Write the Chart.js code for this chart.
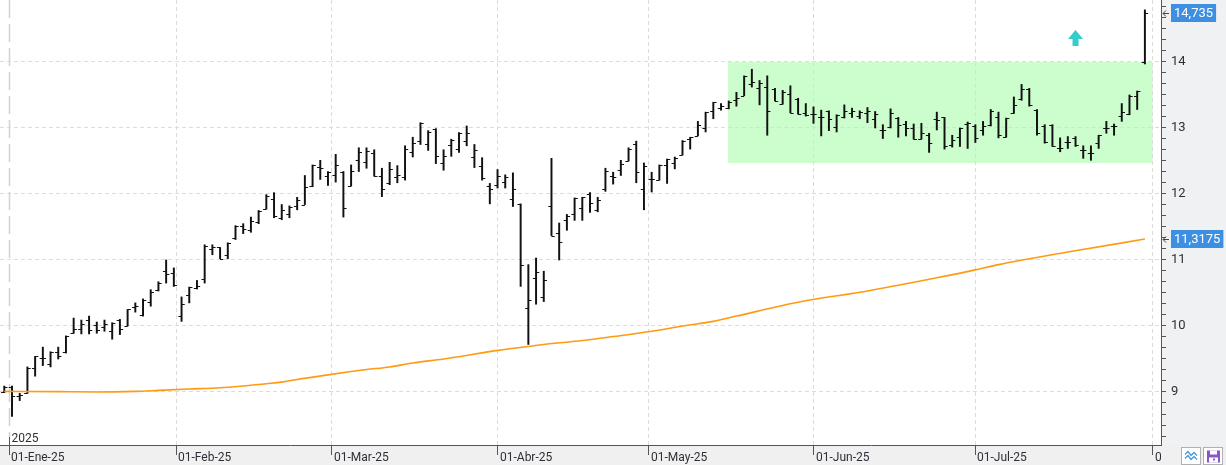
<!DOCTYPE html>
<html lang="es">
<head>
<meta charset="utf-8">
<title>Cotización diaria 2025</title>
<script src="https://cdn.jsdelivr.net/npm/chart.js@4.4.1/dist/chart.umd.min.js"></script>
<style>
  html, body { margin: 0; padding: 0; background: #fff; }
  #wrap { position: relative; width: 1226px; height: 465px; }
</style>
</head>
<body>
<div id="wrap"><canvas id="chart"></canvas></div>
<script>
'use strict';

/* ══════════════════════════════════════════
   DATOS (una barra por sesión, 31-dic-24 → 31-jul-25)
══════════════════════════════════════════ */

const opens = [
  9.00, 9.08, 8.94, 8.98, 9.36, 9.51, 9.42, 9.61, 9.60, 9.90,
  9.96, 10.09, 10.02, 9.98, 9.92, 10.09, 10.00, 10.29, 10.17, 10.36,
  10.54, 10.84, 10.80, 10.15, 10.47, 10.57, 10.71, 11.17, 11.19, 11.07,
  11.34, 11.51, 11.46, 11.57, 11.77, 11.93, 11.63, 11.69, 11.82, 11.84,
  12.12, 12.41, 12.27, 12.29, 12.34, 12.12, 12.51, 12.48, 12.62, 12.28,
  12.16, 12.26, 12.26, 12.64, 12.81, 12.76, 12.98, 12.47, 12.74, 12.68,
  12.81, 12.56, 12.42, 12.12, 12.14, 12.18, 11.92, 11.85, 10.27, 10.73,
  10.44, 11.82, 11.41, 11.61, 11.70, 11.79, 12.00, 11.75, 12.08, 12.27,
  12.37, 12.50, 12.75, 12.07, 12.22, 12.21, 12.44, 12.47, 12.59, 12.83,
  12.88, 13.00, 13.25, 13.31, 13.31, 13.43, 13.49, 13.66, 13.60, 13.62,
  13.59, 13.36, 13.51, 13.44, 13.22, 13.21, 13.17, 13.26, 13.02, 13.17,
  13.22, 13.18, 13.22, 13.13, 12.97, 13.02, 13.15, 13.06, 13.00, 12.83,
  12.89, 13.14, 13.16, 12.74, 12.86, 13.06, 13.03, 12.97, 13.05, 13.16,
  12.87, 13.23, 13.44, 13.59, 13.28, 13.03, 13.05, 12.69, 12.79, 12.85,
  12.67, 12.62, 12.78, 13.00, 13.03, 13.18, 13.21, 13.48, 14.00
];

const highs = [
  9.09, 9.09, 8.98, 9.38, 9.54, 9.68, 9.61, 9.68, 9.85, 10.12,
  10.09, 10.15, 10.06, 10.09, 10.05, 10.10, 10.25, 10.35, 10.41, 10.55,
  10.67, 11.00, 10.88, 10.44, 10.59, 10.69, 11.23, 11.23, 11.19, 11.26,
  11.52, 11.55, 11.65, 11.75, 11.99, 12.02, 11.84, 11.82, 11.95, 12.28,
  12.44, 12.51, 12.34, 12.60, 12.34, 12.44, 12.70, 12.70, 12.67, 12.39,
  12.48, 12.43, 12.73, 12.86, 13.08, 12.96, 12.99, 12.67, 12.83, 12.93,
  13.03, 12.75, 12.55, 12.16, 12.37, 12.29, 12.32, 11.85, 10.93, 11.03,
  10.83, 12.54, 11.56, 11.69, 11.94, 11.95, 12.02, 11.95, 12.39, 12.33,
  12.51, 12.70, 12.80, 12.47, 12.33, 12.44, 12.53, 12.56, 12.81, 12.86,
  13.10, 13.24, 13.39, 13.37, 13.41, 13.54, 13.79, 13.89, 13.72, 13.79,
  13.60, 13.57, 13.64, 13.45, 13.37, 13.32, 13.27, 13.26, 13.20, 13.35,
  13.30, 13.26, 13.31, 13.25, 13.05, 13.29, 13.16, 13.10, 13.06, 13.07,
  12.92, 13.24, 13.16, 12.89, 13.00, 13.09, 13.05, 13.10, 13.28, 13.24,
  13.15, 13.47, 13.66, 13.60, 13.28, 13.05, 13.05, 12.85, 12.87, 12.87,
  12.73, 12.73, 12.89, 13.10, 13.06, 13.37, 13.50, 13.56, 14.79
];

const lows = [
  8.99, 8.63, 8.87, 8.98, 9.24, 9.40, 9.38, 9.50, 9.59, 9.89,
  9.88, 9.88, 9.89, 9.92, 9.80, 9.87, 10.00, 10.21, 10.15, 10.30,
  10.53, 10.65, 10.60, 10.07, 10.35, 10.56, 10.65, 11.08, 11.02, 11.02,
  11.31, 11.40, 11.42, 11.55, 11.77, 11.64, 11.61, 11.64, 11.76, 11.84,
  12.11, 12.22, 12.13, 12.18, 11.65, 12.12, 12.34, 12.39, 12.27, 11.96,
  12.14, 12.17, 12.21, 12.56, 12.75, 12.66, 12.46, 12.36, 12.57, 12.63,
  12.73, 12.40, 12.21, 11.85, 12.09, 12.09, 11.81, 10.60, 9.72, 10.33,
  10.37, 11.37, 11.00, 11.45, 11.60, 11.60, 11.72, 11.73, 12.04, 12.15,
  12.28, 12.50, 12.17, 11.76, 12.03, 12.21, 12.16, 12.38, 12.59, 12.68,
  12.88, 12.94, 13.14, 13.27, 13.29, 13.33, 13.49, 13.62, 13.35, 12.89,
  13.41, 13.36, 13.23, 13.21, 13.18, 13.07, 12.88, 12.96, 12.94, 13.15,
  13.16, 13.14, 13.08, 13.00, 12.84, 13.00, 12.86, 12.88, 12.83, 12.83,
  12.63, 12.97, 12.68, 12.71, 12.72, 12.69, 12.78, 12.89, 13.03, 12.85,
  12.86, 13.22, 13.42, 13.33, 12.89, 12.77, 12.72, 12.64, 12.69, 12.72,
  12.54, 12.51, 12.69, 12.92, 12.89, 13.10, 13.20, 13.28, 13.97
];

const closes = [
  9.08, 8.94, 8.96, 9.36, 9.54, 9.51, 9.60, 9.55, 9.85, 9.95,
  10.03, 9.94, 9.94, 10.03, 10.05, 9.95, 10.25, 10.31, 10.39, 10.51,
  10.65, 10.79, 10.62, 10.34, 10.59, 10.61, 11.21, 11.19, 11.02, 11.26,
  11.52, 11.47, 11.59, 11.74, 11.97, 11.66, 11.75, 11.81, 11.91, 12.10,
  12.44, 12.40, 12.33, 12.44, 11.79, 12.35, 12.64, 12.65, 12.27, 12.07,
  12.38, 12.29, 12.68, 12.77, 13.07, 12.94, 12.58, 12.58, 12.82, 12.93,
  12.92, 12.66, 12.24, 12.07, 12.28, 12.26, 12.07, 10.92, 10.40, 10.82,
  10.70, 11.37, 11.27, 11.67, 11.94, 11.95, 11.86, 11.91, 12.35, 12.26,
  12.46, 12.68, 12.33, 12.43, 12.22, 12.44, 12.53, 12.54, 12.81, 12.86,
  13.05, 13.24, 13.39, 13.33, 13.40, 13.45, 13.78, 13.69, 13.68, 13.25,
  13.41, 13.55, 13.23, 13.21, 13.20, 13.21, 13.16, 13.13, 13.20, 13.25,
  13.25, 13.24, 13.25, 13.21, 12.97, 13.22, 13.05, 13.00, 12.83, 12.92,
  12.78, 13.12, 12.72, 12.82, 13.00, 13.07, 12.85, 13.03, 13.26, 12.89,
  13.15, 13.35, 13.59, 13.35, 12.92, 12.79, 12.73, 12.69, 12.79, 12.74,
  12.67, 12.62, 12.89, 13.00, 13.03, 13.24, 13.49, 13.56, 14.735
];

/* Media móvil (naranja), leída por tramos: índice de sesión → valor */
const maIndex  = [0, 7, 12, 17, 20, 24, 28, 31, 34, 36, 38, 42, 45, 47, 50, 53, 57, 64, 68, 70,
                  75, 79, 84, 88, 92, 95, 103, 112, 121, 126, 129, 138, 148];
const maValues = [9.01, 9.005, 9.0, 9.01, 9.025, 9.045, 9.065, 9.09, 9.125, 9.15, 9.19, 9.26, 9.31, 9.34, 9.38, 9.44, 9.5, 9.63, 9.69, 9.72,
                  9.78, 9.84, 9.92, 10.0, 10.07, 10.15, 10.36, 10.53, 10.73, 10.85, 10.93, 11.12, 11.3175];

/* Eje X: posición (en sesiones) de cada inicio de mes */
const monthTickPos    = [0.65, 22.3, 42.5, 64, 83.6, 105, 126, 149.05];
const monthTickLabels = ['01-Ene-25', '01-Feb-25', '01-Mar-25', '01-Abr-25', '01-May-25', '01-Jun-25', '01-Jul-25', '01-Ago-25'];

/* Eje Y: valores con etiqueta */
const yMajorTicks = [9, 10, 11, 12, 13, 14];

/* Etiquetas de precio en el eje derecho */
const priceTags = [
  { value: 14.735,  text: '14,735'  },
  { value: 11.3175, text: '11,3175' }
];

/* Zona de consolidación (verde) y flecha de ruptura */
const boxFrom = 93.9, boxTo = 149.0, boxLow = 12.47, boxHigh = 14.0;
const arrowAt = 139, arrowTip = 14.485;

/* ══════════════════════════════════════════
   ESTILO
══════════════════════════════════════════ */

const FONT      = 'Roboto, "Liberation Sans", sans-serif';
const GRID      = '#dcdcdc';
const AXIS      = '#555';
const TEXT      = '#2e2e38';
const PANEL_R   = '#f0f1f3';
const PANEL_B   = '#f0f0f0';

/* ══════════════════════════════════════════
   PLUGINS
══════════════════════════════════════════ */

/* Fondos, zona verde y línea del año (debajo de la rejilla) */
const backdrop = {
  id: 'backdrop',
  beforeDraw(chart) {
    const { ctx, chartArea: a, width, height } = chart;
    const x = chart.scales.x, y = chart.scales.y;
    ctx.save();
    ctx.fillStyle = '#fff';
    ctx.fillRect(0, 0, width, height);
    ctx.fillStyle = PANEL_R;
    ctx.fillRect(a.right, 0, width - a.right, height);
    ctx.fillStyle = PANEL_B;
    ctx.fillRect(0, a.bottom, width, height - a.bottom);

    /* zona verde */
    const x0 = x.getPixelForValue(boxFrom), x1 = x.getPixelForValue(boxTo);
    const y0 = y.getPixelForValue(boxHigh), y1 = y.getPixelForValue(boxLow);
    ctx.fillStyle = '#ccfdcc';
    ctx.fillRect(x0, y0, x1 - x0, y1 - y0);

    /* línea de cambio de año */
    const xj = Math.round(x.getPixelForValue(monthTickPos[0])) + 0.5;
    ctx.strokeStyle = '#d2d2d2';
    ctx.lineWidth = 1.5;
    ctx.setLineDash([18, 6]);
    ctx.beginPath();
    ctx.moveTo(xj, a.top);
    ctx.lineTo(xj, a.bottom - 8);
    ctx.stroke();
    ctx.restore();
  }
};

/* Marcas de apertura (izquierda) y cierre (derecha) */
const ohlcTicks = {
  id: 'ohlcTicks',
  afterDatasetsDraw(chart) {
    const { ctx, chartArea: a } = chart;
    const x = chart.scales.x, y = chart.scales.y;
    ctx.save();
    ctx.beginPath();
    ctx.rect(a.left, a.top, a.right - a.left, a.bottom - a.top);
    ctx.clip();
    ctx.strokeStyle = '#111';
    ctx.lineWidth = 1.2;
    ctx.beginPath();
    opens.forEach((o, i) => {
      const xc = x.getPixelForValue(i);
      const yo = Math.round(y.getPixelForValue(o)) + 0.5;
      const yc = Math.round(y.getPixelForValue(closes[i])) + 0.5;
      ctx.moveTo(xc - 3.2, yo); ctx.lineTo(xc, yo);
      ctx.moveTo(xc, yc);       ctx.lineTo(xc + 3.2, yc);
    });
    ctx.stroke();

    /* flecha cian */
    const ax = x.getPixelForValue(arrowAt), ay = y.getPixelForValue(arrowTip);
    ctx.fillStyle = '#36cccc';
    ctx.beginPath();
    ctx.moveTo(ax, ay);
    ctx.lineTo(ax + 7.5, ay + 9);
    ctx.lineTo(ax + 3, ay + 9);
    ctx.lineTo(ax + 3, ay + 16);
    ctx.lineTo(ax - 3, ay + 16);
    ctx.lineTo(ax - 3, ay + 9);
    ctx.lineTo(ax - 7.5, ay + 9);
    ctx.closePath();
    ctx.fill();
    ctx.restore();
  }
};

/* Etiquetas del eje X, año, etiquetas de precio y botones */
const overlay = {
  id: 'overlay',
  afterDraw(chart) {
    const { ctx, chartArea: a, width } = chart;
    const x = chart.scales.x, y = chart.scales.y;
    ctx.save();

    /* etiquetas de mes */
    ctx.save();
    ctx.beginPath();
    ctx.rect(0, a.bottom, a.right, 30);
    ctx.clip();
    ctx.font = '12px ' + FONT;
    ctx.fillStyle = TEXT;
    ctx.textBaseline = 'middle';
    ctx.textAlign = 'left';
    monthTickPos.forEach((p, i) => {
      ctx.fillText(monthTickLabels[i], Math.round(x.getPixelForValue(p)) + 2, a.bottom + 13);
    });
    ctx.restore();

    /* año */
    const xj = Math.round(x.getPixelForValue(monthTickPos[0])) + 0.5;
    ctx.strokeStyle = AXIS;
    ctx.lineWidth = 1;
    ctx.beginPath();
    ctx.moveTo(xj, a.bottom - 8);
    ctx.lineTo(xj, a.bottom);
    ctx.stroke();
    ctx.font = '12px ' + FONT;
    ctx.fillStyle = TEXT;
    ctx.textBaseline = 'alphabetic';
    ctx.fillText('2025', xj + 2, a.bottom - 3);

    /* etiquetas de precio */
    ctx.font = '13px ' + FONT;
    ctx.textBaseline = 'middle';
    priceTags.forEach(t => {
      const yp = Math.round(y.getPixelForValue(t.value));
      const w = ctx.measureText(t.text).width + 6;
      ctx.fillStyle = '#3d8fe2';
      ctx.fillRect(a.right + 10, yp - 9, w, 18);
      ctx.fillStyle = '#fff';
      ctx.fillText(t.text, a.right + 13, yp + 0.5);
      ctx.strokeStyle = '#444';
      ctx.lineWidth = 1;
      ctx.beginPath();
      ctx.moveTo(a.right + 2, yp + 0.5);
      ctx.lineTo(a.right + 8, yp + 0.5);
      ctx.moveTo(a.right + 5, yp - 2.5);
      ctx.lineTo(a.right + 2, yp + 0.5);
      ctx.lineTo(a.right + 5, yp + 3.5);
      ctx.stroke();
    });

    /* botones inferiores */
    const by = a.bottom + 2.5;
    ctx.fillStyle = '#fff';
    ctx.strokeStyle = '#b0b0b0';
    ctx.lineWidth = 1;
    ctx.fillRect(width - 44, by, 18, 17);
    ctx.strokeRect(width - 44.5, by, 19, 17);
    ctx.fillRect(width - 22, by, 18, 17);
    ctx.strokeRect(width - 22.5, by, 19, 17);
    ctx.strokeStyle = '#4a9ad8';
    ctx.lineWidth = 1.3;
    [0, 4].forEach(d => {
      ctx.beginPath();
      ctx.moveTo(width - 41, by + 7 + d);
      ctx.lineTo(width - 38, by + 4 + d);
      ctx.lineTo(width - 35, by + 8 + d);
      ctx.lineTo(width - 32, by + 5 + d);
      ctx.lineTo(width - 29, by + 8 + d);
      ctx.stroke();
    });
    ctx.fillStyle = '#8a55c8';
    ctx.fillRect(width - 19, by + 3, 13, 12);
    ctx.fillStyle = '#fff';
    ctx.fillRect(width - 16, by + 3, 7, 4);
    ctx.fillRect(width - 17, by + 10, 9, 5);
    ctx.fillStyle = '#8a55c8';
    ctx.fillRect(width - 13, by + 11, 2, 2);
    ctx.restore();
  }
};

/* ══════════════════════════════════════════
   GRÁFICO
══════════════════════════════════════════ */

const isMajor = v => Math.abs(v - Math.round(v)) < 1e-6;

new Chart(document.getElementById('chart'), {
  type: 'bar',
  data: {
    datasets: [
      {
        type: 'bar',
        label: 'Máx-Mín',
        data: highs.map((h, i) => ({ x: i, y: [lows[i], h] })),
        backgroundColor: '#111',
        borderWidth: 0,
        barThickness: 1.3,
        grouped: false,
        order: 2
      },
      {
        type: 'line',
        label: 'Media',
        data: maIndex.map((p, k) => ({ x: p, y: maValues[k] })),
        borderColor: '#ff9a12',
        borderWidth: 1.6,
        pointRadius: 0,
        cubicInterpolationMode: 'monotone',
        order: 1
      }
    ]
  },
  options: {
    responsive: true,
    maintainAspectRatio: false,
    animation: false,
    layout: { padding: 0 },
    plugins: { legend: { display: false }, tooltip: { enabled: false } },
    scales: {
      x: {
        type: 'linear',
        offset: false,
        min: -0.558,
        max: 150.09,
        afterBuildTicks: s => { s.ticks = monthTickPos.map(v => ({ value: v })); },
        afterFit: s => { s.height = 20; s.paddingLeft = 0; s.paddingRight = 0; },
        ticks: { display: false, autoSkip: false },
        grid: {
          offset: false,
          color: c => (c.index === 0 ? 'rgba(0,0,0,0)' : GRID),
          tickColor: AXIS,
          tickLength: 10,
          lineWidth: 1
        },
        border: { display: true, color: AXIS, width: 1, dash: [4, 3] }
      },
      y: {
        type: 'linear',
        position: 'right',
        min: 8.197,
        max: 14.939,
        afterBuildTicks: s => {
          const t = [];
          for (let k = 50; k <= 89; k++) t.push({ value: k / 6 });
          s.ticks = t;
        },
        afterFit: s => { s.width = 65; s.paddingTop = 0; s.paddingBottom = 0; },
        ticks: {
          autoSkip: false,
          padding: 5,
          color: TEXT,
          font: { family: FONT, size: 13 },
          callback: v => (isMajor(v) && yMajorTicks.includes(Math.round(v)) ? String(Math.round(v)) : '')
        },
        grid: {
          color: c => (c.tick && isMajor(c.tick.value) ? GRID : 'rgba(0,0,0,0)'),
          tickColor: AXIS,
          tickLength: 5,
          lineWidth: 1
        },
        border: { display: true, color: AXIS, width: 1, dash: [4, 3] }
      }
    }
  },
  plugins: [backdrop, ohlcTicks, overlay]
});
</script>
</body>
</html>
